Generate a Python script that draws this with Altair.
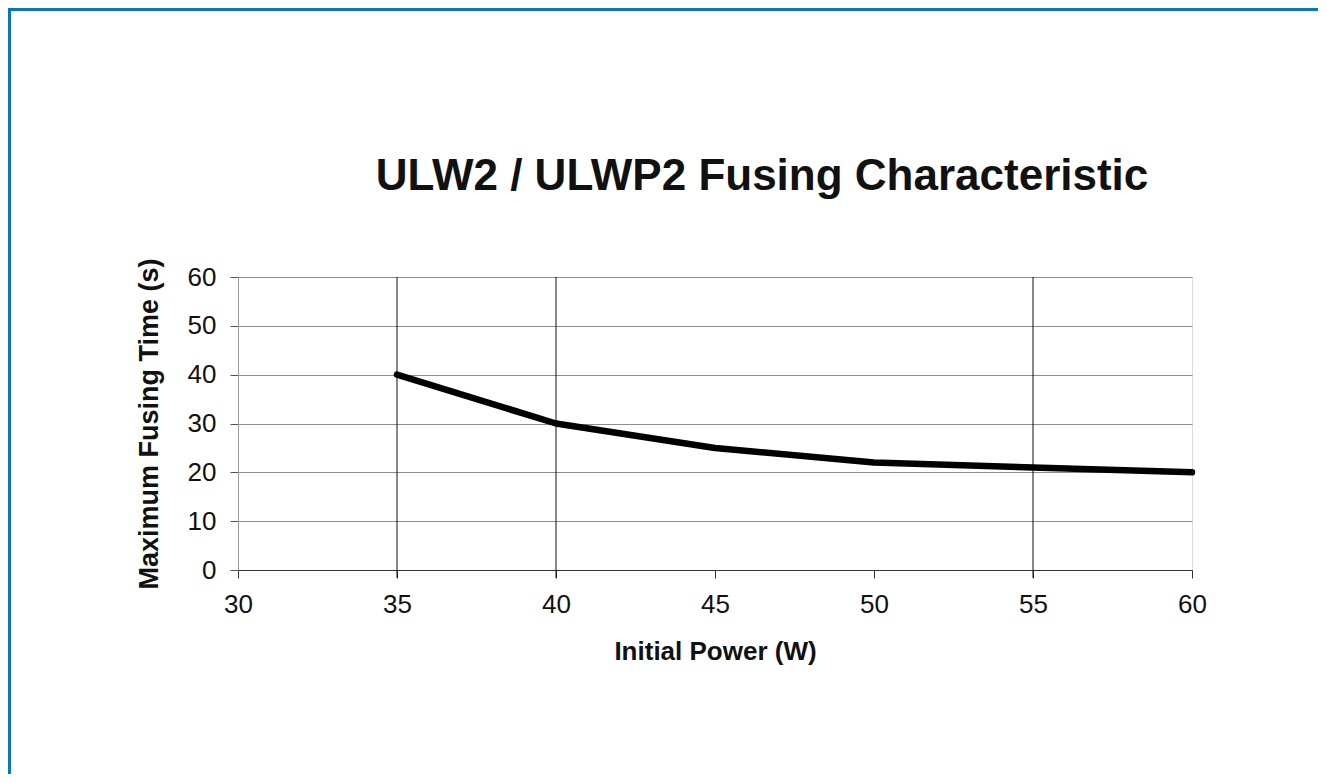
import altair as alt
import pandas as pd

# ---- data ----
power = [35, 40, 45, 50, 55, 60]
fusing_time = [40, 30, 25, 22, 21, 20]
x_ticks = [30, 35, 40, 45, 50, 55, 60]
y_ticks = [0, 10, 20, 30, 40, 50, 60]
v_grid = [35, 40, 55]
chart_title = "ULW2 / ULWP2 Fusing Characteristic"

df = pd.DataFrame({"power": power, "time": fusing_time})
grid_df = pd.DataFrame({"power": v_grid})
one = pd.DataFrame({"k": [0]})
title_df = pd.DataFrame({"t": [chart_title]})

W, H = 954, 293
FONT = "Liberation Sans"

xscale = alt.Scale(domain=[30, 60], nice=False, zero=False)
yscale = alt.Scale(domain=[0, 60], nice=False)

x_axis = alt.Axis(
    values=x_ticks, title="Initial Power (W)", grid=False,
    labelFont=FONT, labelFontSize=26, labelColor="#111", labelPadding=13,
    titleFont=FONT, titleFontSize=26, titleFontWeight="bold", titleColor="#111",
    titlePadding=21, tickSize=8, tickColor="#333", domainColor="#333",
    labelFlush=False,
)
y_axis = alt.Axis(
    values=y_ticks, title="Maximum Fusing Time (s)", grid=True,
    gridColor="#8c8c8c", gridWidth=1,
    labelFont=FONT, labelFontSize=26, labelColor="#111", labelPadding=14,
    titleFont=FONT, titleFontSize=27, titleFontWeight="bold", titleColor="#111",
    titlePadding=24, tickSize=8, tickColor="#555", domainColor="#999",
    labelFlush=False,
)

vgrid = alt.Chart(grid_df).mark_rule(color="#111", strokeWidth=1).encode(
    x=alt.X("power:Q", scale=xscale, axis=x_axis),
    y=alt.value(0),
    y2=alt.value(H + 8),
)

line = alt.Chart(df).mark_line(
    color="black", strokeWidth=6.5, strokeCap="round", strokeJoin="round"
).encode(
    x=alt.X("power:Q", scale=xscale, axis=x_axis),
    y=alt.Y("time:Q", scale=yscale, axis=y_axis),
)

title = alt.Chart(title_df).mark_text(
    font=FONT, fontSize=44, fontWeight="bold", color="#111",
    align="center", baseline="alphabetic",
).encode(text="t:N", x=alt.value(524), y=alt.value(-87))

# decorative frame of the original slide (top and left edges)
border_left = alt.Chart(one).mark_rule(color="#0b77b8", strokeWidth=3).encode(
    x=alt.value(-228.5), y=alt.value(-269), y2=alt.value(520)
)
border_top = alt.Chart(one).mark_rule(color="#0b77b8", strokeWidth=3).encode(
    x=alt.value(-230), x2=alt.value(1090), y=alt.value(-267.5)
)

chart = alt.layer(vgrid, line, title, border_left, border_top).properties(
    width=W,
    height=H,
    autosize=alt.AutoSizeParams(type="none"),
    padding={"left": 230, "top": 269, "right": 126, "bottom": 204},
).configure_view(
    stroke="#999", strokeWidth=1
).configure(background="white")

chart.save("out.html", embed_options={"renderer": "svg", "actions": False})
